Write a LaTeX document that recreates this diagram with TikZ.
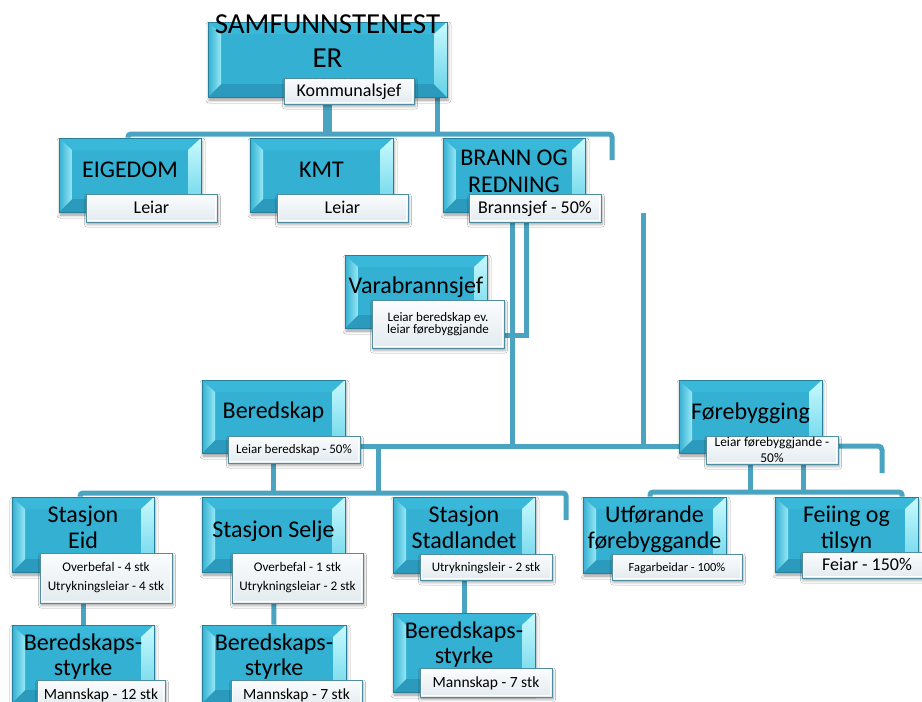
\documentclass[tikz,border=0pt]{standalone}
\usepackage{fontspec}
\setmainfont{Carlito}
\usetikzlibrary{shadows.blur,backgrounds,calc}

\definecolor{boxmain}{RGB}{52,176,211}
\definecolor{boxedge}{RGB}{38,128,156}
\definecolor{boxtop}{RGB}{58,184,218}
\definecolor{boxbot}{RGB}{44,154,188}
\definecolor{bevlight}{RGB}{150,232,245}
\definecolor{bevwhite}{RGB}{200,250,255}
\definecolor{bevright}{RGB}{100,210,232}
\definecolor{lbledge}{RGB}{78,140,160}
\definecolor{lbltop}{RGB}{251,252,253}
\definecolor{lblbot}{RGB}{226,235,239}
\definecolor{conncol}{RGB}{74,163,192}

\tikzset{
  bevbox/.style 2 args={rectangle, inner sep=0pt, minimum width=#1pt, minimum height=#2pt,
    draw=boxedge, line width=0.8pt, fill=boxmain,
    blur shadow={shadow xshift=1pt, shadow yshift=-3pt, shadow blur radius=3pt, shadow opacity=40},
    path picture={
      \path (path picture bounding box.north west) coordinate (bvnw)
            (path picture bounding box.north east) coordinate (bvne)
            (path picture bounding box.south west) coordinate (bvsw)
            (path picture bounding box.south east) coordinate (bvse)
            ([xshift=13pt,yshift=-12pt]path picture bounding box.north west) coordinate (bvinw)
            ([xshift=-13pt,yshift=-12pt]path picture bounding box.north east) coordinate (bvine)
            ([xshift=13pt,yshift=13pt]path picture bounding box.south west) coordinate (bvisw)
            ([xshift=-13pt,yshift=13pt]path picture bounding box.south east) coordinate (bvise);
      \fill[boxtop] (bvnw) -- (bvne) -- (bvine) -- (bvinw) -- cycle;
      \fill[boxbot] (bvsw) -- (bvse) -- (bvise) -- (bvisw) -- cycle;
      \shade[left color=boxmain, right color=bevlight] (bvnw) -- (bvinw) -- (bvisw) -- (bvsw) -- cycle;
      \shade[top color=bevwhite, bottom color=bevright] (bvne) -- (bvine) -- (bvise) -- (bvse) -- cycle;
    }},
  btext/.style={anchor=base, align=center, inner sep=0pt, text=black, font=\fontsize{24}{26}\selectfont},
  lbl/.style 2 args={rectangle, inner sep=0pt, minimum width=#1pt, minimum height=#2pt, align=center,
    draw=lbledge, line width=0.9pt, top color=lbltop, bottom color=lblbot, text=black,
    blur shadow={shadow xshift=1pt, shadow yshift=-2.5pt, shadow blur radius=2.5pt, shadow opacity=35},
    path picture={\draw[white, line width=1.6pt]
      ([xshift=1.4pt,yshift=-1.4pt]path picture bounding box.north west) rectangle
      ([xshift=-1.4pt,yshift=1.4pt]path picture bounding box.south east);}},
  lbig/.style={font=\fontsize{18}{20}\selectfont, text height=11.6pt, text depth=0pt},
  lsmall/.style={font=\fontsize{13}{15}\selectfont, text height=8.4pt, text depth=0pt},
  lmid/.style={font=\fontsize{15.5}{17}\selectfont, text height=10pt, text depth=0pt},
  conn/.style={draw=conncol, line width=5pt},
}

\begin{document}
\begin{tikzpicture}[x=1pt,y=-1pt]
\useasboundingbox (0,0) rectangle (922,702);

% ---------- boxes ----------
\node[bevbox={239}{75}] (top) at (327.5,59.5) {};
\node[bevbox={142}{74}] (eig) at (130,175) {};
\node[bevbox={143}{74}] (kmt) at (321.5,175) {};
\node[bevbox={142}{74}] (brn) at (514,175) {};
\node[bevbox={142}{73}] (var) at (416,291.5) {};
\node[bevbox={143}{73}] (ber) at (273.5,416.5) {};
\node[bevbox={143}{73}] (for) at (750.5,416.5) {};
\node[bevbox={142}{75}] (eid) at (83,534.5) {};
\node[bevbox={143}{75}] (sel) at (273.5,534.5) {};
\node[bevbox={142}{76}] (sta) at (464,535) {};
\node[bevbox={143}{76}] (utf) at (654.5,535) {};
\node[bevbox={143}{75}] (fei) at (846.5,534.5) {};
\node[bevbox={142}{78}] (bs1) at (83,664) {};
\node[bevbox={144}{78}] (bs2) at (274,664) {};
\node[bevbox={142}{79}] (bs3) at (464,652.5) {};

% ---------- box texts (base = baseline of last line) ----------
\node[btext, font=\fontsize{29}{34}\selectfont] (topT) at (327.5,67) {SAMFUNNSTENEST\\ER};
\node[btext] (eigT) at (130,177) {EIGEDOM};
\node[btext] (kmtT) at (321.5,177) {KMT};
\node[btext, font=\fontsize{24}{27}\selectfont] (brnT) at (514,192) {BRANN OG\\REDNING};
\node[btext] (varT) at (416,293) {Varabrannsjef};
\node[btext] (berT) at (273.5,418) {Beredskap};
\node[btext] (forT) at (750.5,419) {Førebygging};
\node[btext] (eidT) at (83,548) {Stasjon\\Eid};
\node[btext] (selT) at (273.5,537) {Stasjon Selje};
\node[btext] (staT) at (464,548) {Stasjon\\Stadlandet};
\node[btext] (utfT) at (654.5,548) {Utførande\\førebyggande};
\node[btext] (feiT) at (846.5,548) {Feiing og\\tilsyn};
\node[btext, font=\fontsize{24}{25}\selectfont] (bs1T) at (83,675) {Beredskaps-\\styrke};
\node[btext, font=\fontsize{24}{25}\selectfont] (bs2T) at (274,675) {Beredskaps-\\styrke};
\node[btext, font=\fontsize{24}{25}\selectfont] (bs3T) at (464,663) {Beredskaps-\\styrke};

% ---------- labels ----------
\node[lbl={130}{26}, lbig] (topL) at (349,91) {Kommunalsjef};
\node[lbl={131}{28}, lbig] (eigL) at (151.5,208) {Leiar};
\node[lbl={131}{28}, lbig] (kmtL) at (342.5,208) {Leiar};
\node[lbl={132}{28}, lbig] (brnL) at (535,208) {Brannsjef - 50\%};
\node[lbl={132}{48}, font=\fontsize{13}{11.7}\selectfont] (varL) at (438,324) {Leiar beredskap ev.\\leiar førebyggjande};
\node[lbl={132}{27}, lsmall] (berL) at (294,449.5) {Leiar beredskap - 50\%};
\node[lbl={132}{28}, font=\fontsize{13.4}{15.5}\selectfont] (forL) at (772,450) {Leiar førebyggjande -\\50\%};
\node[lbl={132}{50}, font=\fontsize{13.2}{19}\selectfont] (eidL) at (106,578) {Overbefal - 4 stk\\Utrykningsleiar - 4 stk};
\node[lbl={131}{50}, font=\fontsize{13.2}{19}\selectfont] (selL) at (297.5,578) {Overbefal - 1 stk\\Utrykningsleiar - 2 stk};
\node[lbl={132}{26}, lsmall] (staL) at (486,567) {Utrykningsleir - 2 stk};
\node[lbl={130}{26}, lsmall, font=\fontsize{12.4}{14}\selectfont] (utfL) at (677,567) {Fagarbeidar - 100\%};
\node[lbl={130}{26}, lbig] (feiL) at (867,565) {Feiar - 150\%};
\node[lbl={128}{28}, lmid] (bs1L) at (101,694) {Mannskap - 12 stk};
\node[lbl={131}{28}, lmid] (bs2L) at (296.5,694) {Mannskap - 7 stk};
\node[lbl={132}{29}, lmid] (bs3L) at (486,682.5) {Mannskap - 7 stk};

% ---------- connectors ----------
\begin{scope}[on background layer]
  \fill[white] (0,0) rectangle (922,702);
  % level 1 bus
  \coordinate (b1l) at (128,134);
  \coordinate (b1r) at (612,134);
  \coordinate (b1e) at (612,160);
  \draw[conn, rounded corners=3pt] (b1l |- eig.north) -- (b1l) -- (b1r) -- (b1e);
  \draw[conn, line width=9pt] (top.south) -- (top.south |- b1l);
  \coordinate (t437) at ([xshift=-10pt]top.south east);
  \draw[conn] (t437) -- (t437 |- b1l);
  % brann og redning
  \coordinate (bus2) at (0,446);
  \coordinate (br1) at ([xshift=-2pt]brn.south);
  \coordinate (br2) at ([xshift=12pt]brn.south);
  \draw[conn] (br1) -- (br1 |- bus2);
  \coordinate (varc) at ([yshift=-11pt]varL.east);
  \draw[conn] (br2) |- (varc);
  \coordinate (v643) at (643,213);
  \draw[conn] (v643) -- (v643 |- bus2);
  \draw[conn] (berL.east |- bus2) -- (forL.west |- bus2);
  % beredskap
  \coordinate (bus3) at (0,493);
  \draw[conn] (ber.south) -- (ber.south |- bus3);
  \coordinate (j378) at (378,446);
  \draw[conn] (j378) -- (j378 |- bus3);
  \coordinate (b3l) at (80,493);
  \coordinate (b3r) at (566,493);
  \coordinate (b3e) at (566,520);
  \draw[conn, rounded corners=3pt] (b3l |- eid.north) -- (b3l) -- (b3r) -- (b3e);
  % forebygging
  \coordinate (bus4) at (0,492);
  \draw[conn] (for.south) -- (for.south |- bus4);
  \coordinate (f803) at ([xshift=52.5pt]for.south);
  \draw[conn] (f803) -- (f803 |- bus4);
  \coordinate (f882) at (882,473);
  \draw[conn, rounded corners=4pt] (forL.east |- bus2) -| (f882);
  \coordinate (b4l) at (650,492);
  \coordinate (b4r) at (902,492);
  \draw[conn, rounded corners=3pt] (b4l |- utf.north) -- (b4l) -- (b4r) -- (b4r |- fei.north);
  % stations
  \draw[conn] (eid.south) -- (bs1.north);
  \draw[conn] (sel.south) -- (bs2.north);
  \draw[conn] (sta.south) -- (bs3.north);
\end{scope}
\end{tikzpicture}
\end{document}
